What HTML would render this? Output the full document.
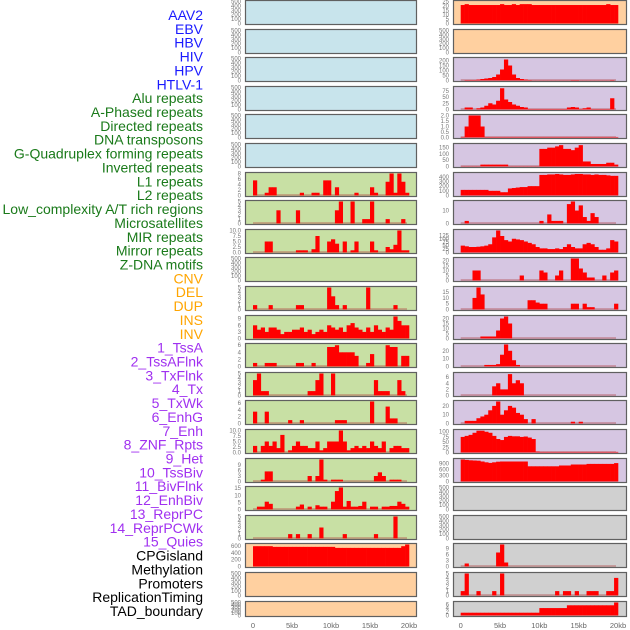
<!DOCTYPE html>
<html><head><meta charset="utf-8"><style>
body{margin:0;background:#fff;width:630px;height:630px;overflow:hidden}
svg{display:block}
.lab{font-family:"Liberation Sans",sans-serif;font-size:14px;text-anchor:end}
.tk{font-family:"Liberation Sans",sans-serif;font-size:6px;fill:#777;text-anchor:end}
.xt{font-family:"Liberation Sans",sans-serif;font-size:7.5px;fill:#666;text-anchor:middle}
</style></head><body>
<svg id="c" width="630" height="630"></svg>
<script>
const labels=["AAV2","EBV","HBV","HIV","HPV","HTLV-1","Alu repeats","A-Phased repeats","Directed repeats","DNA transposons","G-Quadruplex forming repeats","Inverted repeats","L1 repeats","L2 repeats","Low_complexity A/T rich regions","Microsatellites","MIR repeats","Mirror repeats","Z-DNA motifs","CNV","DEL","DUP","INS","INV","1_TssA","2_TssAFlnk","3_TxFlnk","4_Tx","5_TxWk","6_EnhG","7_Enh","8_ZNF_Rpts","9_Het","10_TssBiv","11_BivFlnk","12_EnhBiv","13_ReprPC","14_ReprPCWk","15_Quies","CPGisland","Methylation","Promoters","ReplicationTiming","TAD_boundary"];
const labelGroups=[0,0,0,0,0,0,1,1,1,1,1,1,1,1,1,1,1,1,1,2,2,2,2,2,3,3,3,3,3,3,3,3,3,3,3,3,3,3,3,4,4,4,4,4];
const xTicks=[0,5000,10000,15000,20000];
const xTickLabels=["0","5kb","10kb","15kb","20kb"];
const T500=["0","100","200","300","400","500"];
// left column data (40 bins of 500bp)
const L7=[5.5,0,0,1,3,3,0,0,0,0,0,0,1,0,0,1,1,0,5.5,5.5,0,3,0,0,0,0,1,0,0,0,3,1,0,0,5,8,1,8,5,1];
const L8=[0,0,0,0,0,0,3,0,0,0,0,3,0,0,0,0,0,0,0,0,0,3,5,0,0,5,0,0,1,1,5,0,0,0,1,0,0,0,1,0];
const L9=[0,0,0,5,5,0,0,0,0,0,0,1,1,1,0,1.5,7.5,0,0,5,6,4,0,5,0,1,5,0,0,0,5,1,0,0,2.5,1.5,3.5,10,1,1];
const L11=[1,0,0,0,1,0,0,0,0,0,0,1,1,0,0,0,0,0,0,5,3,1,0,1,0,0,0,0,0,5,0,0,0,0,0,0,1,0,0,0];
const L12=[6,4,5,3,5,5,4,2,3,3,4,4,5,3,4,2,3,4,3,6,5,4,5,3,6,7,5,4,3,5,3,6,4,3,5,4,10,8,6,6];
const L13=[1,0,0,1,1,1,0,0,0,0,0,1,1,0,0,1,0,0,0,5.5,5.5,6,4,4,4,4,3,0,0,1,3.5,0,0,0,6,5.5,5.5,0,3,3];
const L14=[3.5,5,1,1,0,0,0,0,0,0,0,0,0,0,1,1,3.5,5,0,0,5,0,0,0,0,0,0,0,0,0,0,3.5,1,1,1,0,0,3.5,1,0];
const L15=[3.5,0,0,3.5,0,0,0,0,0,1,0,0,1,0,0,0,0,0,0,0,0,1,1,1,0,0,0,0,0,0,6.5,0,0,0,5,1.5,1.5,0,0,0];
const L16=[3,0,3,5,3,5,2,8,0,1,3,5,3,3,2,2,5,1,2,5,5,5,10,5,1,2,3,2,3,2,5,3,2,5,0,2,3,3,2,2];
const L17=[0,0,1,5.5,5.5,0,0,0,0,0,0,0,0,0,3,0,3,12,1,0,1,1,1,0,0,0,0,0,0,0,0,3,5,3,0,1,1,1,0,0];
const L18=[0,2,2,5.5,4,0,0,0,0,0,0,2,3.5,0,2,0,3,2,2,0,5.5,13,15.5,2,6,2,2,2.5,5.5,0,2,2,0,2,2,2.5,2.5,5.5,4,2];
const L19=[0,0,0,0,0,0,0,0,0,1,0,1,0,0,1,0,0,2.5,0,0,0,0,0,1,0,0,0,0,0,0,0,1,0,0,0,0,5,0,0,0];
const L20=[600,600,600,600,600,580,580,580,580,580,580,580,580,580,580,580,580,580,580,580,580,550,550,550,550,550,550,550,550,550,550,550,550,550,550,550,550,550,600,650];
// right column data
const R1=[21,22,21,21,21,21,21,21,21,21,22,21,21,22,21,22,22,22,21,21,21,21,21,21,21,21,21,21,21,21,21,21,21,21,21,21,21,22,21,21];
const R3=[0,5,5,5,10,15,20,25,35,60,110,210,150,60,25,15,10,5,2,2,2,2,2,2,2,2,2,2,5,5,2,2,2,2,2,2,2,2,5,0];
const R4=[0,8,8,0,5,8,15,25,20,35,85,40,30,20,15,10,8,2,2,2,2,2,2,2,2,2,2,8,10,8,2,5,8,2,2,2,2,2,45,0];
const R5=[0.05,1,2,2,2,1,0.05,0.05,0.05,0.05,0.05,0.05,0.05,0.05,0.05,0.05,0.05,0.05,0.05,0.05,0.05,0.05,0.05,0.05,0.05,0.05,0.05,0.05,0.05,0.05,0.05,0.05,0.05,0.05,0.05,0.05,0.05,0.05,0.05,0.05];
const R6=[2,2,2,2,2,15,15,15,15,15,15,15,2,2,2,2,2,2,2,2,140,140,150,150,160,170,140,140,130,150,170,40,40,20,20,20,20,30,30,15];
const R7=[120,120,120,120,120,120,120,100,100,100,70,70,150,160,170,180,180,200,200,200,440,440,450,450,460,450,440,440,450,460,460,450,450,440,450,440,440,430,420,420];
const R8=[0,2,0,0,0,0,0,0,0,0,0,0,0,0,0,0,0,0,0,0,2,0,7,2,2,2,0,15,17,10,14,5,2,8,5,0,0,0,0,0];
const R9=[50,45,40,40,42,45,50,60,110,160,120,90,80,100,95,90,80,70,60,40,30,30,25,25,30,25,40,60,40,30,30,60,70,60,40,20,20,30,90,80];
const R10=[0,0,0,10,10,0,0,0,0,0,0,0,0,0,0,5,0,0,0,0,10,8,0,0,5,10,0,0,22,22,12,8,3,3,0,0,5,0,8,10];
const R11=[0,0,0,10,19,13,0,0,0,0,0,0,0,0,0,0,0,8,8,6,5,5,0,0,0,0,0,0,5,5,0,5,2,2,0,0,0,0,0,5];
const R12=[0,0,0,0,0,2,2,2,2,8,20,22,15,0,0,0,0,0,0,0,0,0,0,0,0,0,0,0,0,0,0,0,0,0,0,0,0,0,0,0];
const R13=[0,0,0,0,0,0,2,2,2,3,15,28,20,8,2,0,0,0,0,0,0,0,0,0,0,0,0,0,0,0,0,0,0,0,0,0,0,0,0,0];
const R14=[0,0,0,0,0,0,0,0,3,4,2,2,7,4,5,4,0,0,0,0,0,0,0,0,0,0,0,0,0,0,0,0,0,0,0,0,0,0,0,0];
const R15=[0,3,3,3,6,8,10,15,20,25,10,15,20,18,12,10,5,0,5,0,0,0,0,0,0,0,0,0,2,0,2,0,0,0,0,0,0,0,0,0];
const R16=[75,80,85,95,105,105,100,95,80,65,60,75,80,78,78,75,77,72,65,5,3,3,3,3,3,3,3,3,3,3,3,3,3,3,3,3,3,3,3,3];
const R17=[1100,1080,1060,1050,1040,1000,960,930,960,990,1000,1000,1000,1000,1000,1000,1000,760,760,760,760,760,760,760,760,800,800,800,850,850,850,850,880,880,880,880,880,880,880,920];
const R20=[0,1.5,0,0,0,0,0,0,0,7,11,2,0,0,0,0,0,0,0,0,0,0,0,0,0,0,0,0,0,0,0,0,0,0,0,0,0,0,0,0];
const R21=[1,5,0,0,1,0,0,0,1,0,5,0,0,0,0,0,0,0,0,0,0,0,0,0,1,0,1,1,0,1,0,0,1,1,1,0,0,1,1,4];
const R22=[1.5,1.5,1.5,1.5,1.5,1.5,1.5,1.5,1.5,1.5,1.5,1.5,1.5,1.5,1.5,1.5,1.5,1.5,1.5,1.5,4,4,4,4,4,4,4,5.5,5.5,5.5,5.5,5.5,5.5,5.5,5.5,5.5,5.5,5.5,5.5,7];

const BLUE="#c8e4ec",GRN="#c8e0a4",PUR="#d6c6e2",PCH="#ffd0a0",GRY="#d0d0d0";
// [leftData,leftMax,leftTicks,leftBg, rightData,rightMax,rightTicks,rightBg]
const rows=[
[null,500,T500,BLUE,R1,25,["0","5","10","15","20","25"],PCH],
[null,500,T500,BLUE,null,500,T500,PCH],
[null,500,T500,BLUE,R3,220,["0","50","100","150","200"],PUR],
[null,500,T500,BLUE,R4,88,["0","25","50","75"],PUR],
[null,500,T500,BLUE,R5,2,["0.0","0.5","1.0","1.5","2.0"],PUR],
[null,500,T500,BLUE,R6,175,["0","50","100","150"],PUR],
[L7,8,["0","2","4","6","8"],GRN,R7,470,["0","100","200","300","400"],PUR],
[L8,5,["0","1","2","3","4","5"],GRN,R8,17,["0","10"],PUR],
[L9,10,["0.0","2.5","5.0","7.5","10.0"],GRN,R9,160,["0","25","50","75","100","125"],PUR],
[null,500,T500,GRN,R10,22,["0","5","10","15","20"],PUR],
[L11,5,["0","1","2","3","4","5"],GRN,R11,19,["0","5","10","15"],PUR],
[L12,10,["0","3","6","9"],GRN,R12,22,["0","5","10","15","20"],PUR],
[L13,6.2,["0","2","4","6"],GRN,R13,28,["0","10","20"],PUR],
[L14,5,["0","1","2","3","4","5"],GRN,R14,7.2,["0","2","4","6"],PUR],
[L15,6.5,["0","2","4","6"],GRN,R15,25,["0","10","20"],PUR],
[L16,10,["0.0","2.5","5.0","7.5","10.0"],GRN,R16,106,["0","25","50","75","100"],PUR],
[L17,12,["0","3","6","9"],GRN,R17,1100,["0","300","600","900"],PUR],
[L18,15.5,["0","5","10","15"],GRN,null,500,T500,GRY],
[L19,5,["0","1","2","3","4","5"],GRN,null,500,T500,GRY],
[L20,650,["0","200","400","600"],PCH,R20,11,["0","3","6","9"],GRY],
[null,500,T500,PCH,R21,5,["0","1","2","3","4","5"],GRY],
[null,500,T500,PCH,R22,7,["0","2","4","6"],GRY]];

const NS="http://www.w3.org/2000/svg";
const svg=document.getElementById('c');
function mk(t,a,p){const e=document.createElementNS(NS,t);for(const k in a)e.setAttribute(k,a[k]);(p||svg).appendChild(e);return e;}
const gcol=["#1a1aff","#1a7a1a","#ffa500","#a030f0","#000"];
labels.forEach((s,i)=>{
  const t=mk('text',{x:203,y:20+i*13.86,class:'lab',fill:gcol[labelGroups[i]]});
  t.textContent=s;
  
  
});
const cols=[{x:245,w:172,x0:253,x1:409},{x:453,w:174,x0:460.7,x1:618}];
function panel(col,top,h,data,ymax,ticks,bg,name){
  const g=mk('g',{});
  
  
  mk('rect',{x:col.x,y:top,width:col.w,height:h,fill:bg},g);
  const xs=v=>col.x0+v*(col.x1-col.x0)/20000;
  const ys=v=>top+h-1.5-v/ymax*(h-3);
  ticks.forEach(t=>{const e=mk('text',{x:col.x-4,y:ys(parseFloat(t))+2,class:'tk'},g);e.textContent=t;});
  if(data){
    mk('line',{x1:xs(0),x2:xs(20000)-2,y1:ys(0)-0.5,y2:ys(0)-0.5,stroke:'#b04040','stroke-width':1,opacity:0.7},g);
    data.forEach((v,i)=>{if(v<=0)return;
      const r=mk('rect',{x:xs(i*500),y:ys(v),width:xs(500)-xs(0)+0.3,height:ys(0)-ys(v),fill:'#ff0000'},g);
      
      
    });
  }
  mk('rect',{x:col.x+0.5,y:top+0.5,width:col.w-1,height:h-1,fill:'none',stroke:'#606060','stroke-width':1.2},g);
}
rows.forEach((r,i)=>{
  const top=Math.round(i*28.6), h=i==21?16:25;
  panel(cols[0],top,h,r[0],r[1],r[2],r[3],'left-panel-'+(i+1));
  panel(cols[1],top,h,r[4],r[5],r[6],r[7],'right-panel-'+(i+1));
});
cols.forEach((c,k)=>{xTicks.forEach((v,j)=>{
  const t=mk('text',{x:c.x0+v*(c.x1-c.x0)/20000,y:628,class:'xt'});
  t.textContent=xTickLabels[j];
  
  
});});
</script>
</body></html>
